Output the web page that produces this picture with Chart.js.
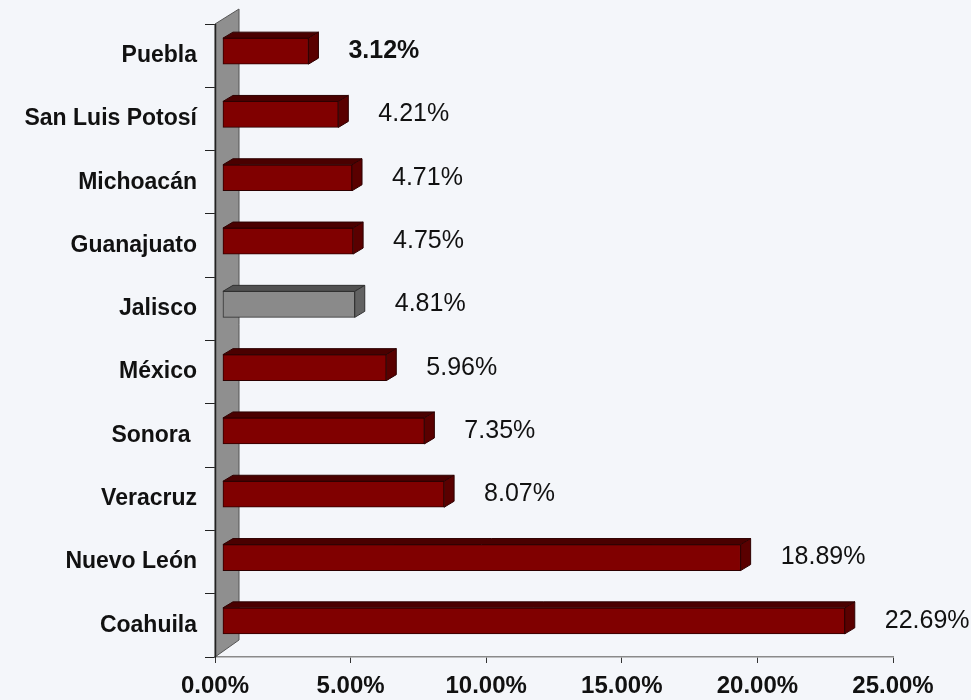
<!DOCTYPE html>
<html><head><meta charset="utf-8">
<script src="https://cdn.jsdelivr.net/npm/chart.js@4.4.1/dist/chart.umd.min.js"></script>
<style>html,body{margin:0;padding:0;background:#f4f6fa;}#wrap{width:971px;height:700px;}</style>
</head><body><div id="wrap"><canvas id="c" width="971" height="700"></canvas></div>
<script>
const categories = ['Puebla','San Luis Potosí','Michoacán','Guanajuato','Jalisco','México','Sonora ','Veracruz','Nuevo León','Coahuila'];
const values = [3.12,4.21,4.71,4.75,4.81,5.96,7.35,8.07,18.89,22.69];
const xTickValues = [0,5,10,15,20,25];
const highlighted = 'Jalisco';

const FONT = '"Liberation Sans", Arial, sans-serif';
const RED = {front:'#800000', top:'#4a0000', side:'#5a0000', line:'#2e0000'};
const GRAY = {front:'#8a8a8a', top:'#515151', side:'#626262', line:'#303030'};
const pal = i => categories[i] === highlighted ? GRAY : RED;
const DX = 10, DY = -6, SHIFT = -4.5, WALL_DX = 24, WALL_DY = -15, LABEL_GAP = 30;

const threeD = {
  id: 'threeD',
  beforeDatasetsDraw(chart) {
    const {ctx, chartArea: a} = chart;
    ctx.save();
    ctx.beginPath();
    ctx.moveTo(a.left, a.top);
    ctx.lineTo(a.left + WALL_DX, a.top + WALL_DY);
    ctx.lineTo(a.left + WALL_DX, a.bottom + WALL_DY - 2);
    ctx.lineTo(a.left, a.bottom);
    ctx.closePath();
    ctx.fillStyle = '#8f8f8f';
    ctx.fill();
    ctx.strokeStyle = '#555';
    ctx.lineWidth = 1;
    ctx.stroke();
    ctx.beginPath();
    ctx.moveTo(a.left + 0.5, a.top);
    ctx.lineTo(a.left + 0.5, a.bottom);
    ctx.strokeStyle = '#222';
    ctx.lineWidth = 1.5;
    ctx.stroke();
    ctx.restore();
    ctx.save();
    ctx.translate(0, SHIFT);
  },
  afterDatasetsDraw(chart) {
    const {ctx} = chart;
    const meta = chart.getDatasetMeta(0);
    meta.data.forEach((el, i) => {
      const p = pal(i);
      const {x, y, base, height} = el.getProps(['x','y','base','height'], true);
      const top = y - height / 2, bot = y + height / 2;
      ctx.lineWidth = 1;
      ctx.strokeStyle = p.line;
      ctx.beginPath();
      ctx.moveTo(base, top); ctx.lineTo(base + DX, top + DY);
      ctx.lineTo(x + DX, top + DY); ctx.lineTo(x, top); ctx.closePath();
      ctx.fillStyle = p.top; ctx.fill(); ctx.stroke();
      ctx.beginPath();
      ctx.moveTo(x, top); ctx.lineTo(x + DX, top + DY);
      ctx.lineTo(x + DX, bot + DY); ctx.lineTo(x, bot); ctx.closePath();
      ctx.fillStyle = p.side; ctx.fill(); ctx.stroke();
    });
    meta.data.forEach((el, i) => {
      ctx.font = (i === 0 ? 'bold ' : '') + '25px ' + FONT;
      ctx.fillStyle = '#111';
      ctx.textAlign = 'left';
      ctx.textBaseline = 'middle';
      ctx.fillText(values[i].toFixed(2) + '%', el.x + DX + LABEL_GAP, el.y);
    });
    ctx.restore();
  }
};

new Chart(document.getElementById('c'), {
  type: 'bar',
  data: {
    labels: categories,
    datasets: [{
      data: values,
      xAxisID: 'xb',
      backgroundColor: c => pal(c.dataIndex).front,
      borderColor: c => pal(c.dataIndex).line,
      borderWidth: 1,
      borderSkipped: false,
      barThickness: 26,
      clip: false
    }]
  },
  options: {
    indexAxis: 'y',
    responsive: false,
    animation: false,
    devicePixelRatio: 1,
    layout: {padding: {top: 24, right: 78, left: 0, bottom: 0}},
    plugins: {legend: {display: false}, tooltip: {enabled: false}},
    scales: {
      x: {
        type: 'linear', position: 'bottom', min: 0, max: 25,
        afterBuildTicks: s => { s.ticks = xTickValues.map(v => ({value: v})); },
        afterFit: s => { s.height = 43; },
        ticks: {callback: v => Number(v).toFixed(2) + '%', font: {family: FONT, size: 24, weight: 'bold'}, color: '#111', padding: 9, maxRotation: 0},
        grid: {drawOnChartArea: false, tickLength: 6, color: '#333'},
        border: {display: true, color: '#8a8a8a', width: 1.5}
      },
      xb: {type: 'linear', display: false, min: -0.29, max: 24.45},
      y: {
        type: 'category',
        afterFit: s => { s.width = 215; },
        ticks: {font: {family: FONT, size: 23, weight: 'bold'}, color: '#111', padding: 8},
        grid: {drawOnChartArea: false, offset: true, tickLength: 10, color: '#222'},
        border: {display: true, color: '#222'}
      }
    }
  },
  plugins: [threeD]
});
</script>
</body></html>
